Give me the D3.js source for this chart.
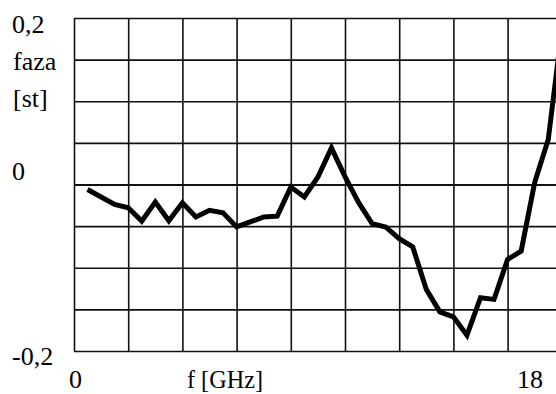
<!DOCTYPE html>
<html>
<head>
<meta charset="utf-8">
<script src="https://cdn.jsdelivr.net/npm/d3@7"></script>
</head>
<body style="margin:0; background:#fff">
<script>
// frequency [GHz] and phase [st]
var freq = [0.5, 1, 1.5, 2, 2.5, 3, 3.5, 4, 4.5, 5, 5.5, 6, 6.5, 7, 7.5, 8, 8.5, 9,
            9.5, 10, 10.5, 11, 11.5, 12, 12.5, 13, 13.5, 14, 14.5, 15, 15.5, 16, 16.5, 17, 17.5, 18];
var faza = [-0.006, -0.015, -0.024, -0.028, -0.044, -0.021, -0.0435, -0.022, -0.039, -0.031,
            -0.034, -0.051, -0.045, -0.039, -0.038, -0.003, -0.015, 0.009, 0.044, 0.0095,
            -0.0215, -0.047, -0.051, -0.065, -0.075, -0.126, -0.153, -0.159, -0.181, -0.136,
            -0.138, -0.090, -0.080, 0.0025, 0.054, 0.186];

var xTicks = d3.range(0, 19, 2);
var yTicks = d3.range(-0.2, 0.2001, 0.05);
var yLabels = [{v: 0.2, t: "0,2"}, {v: 0, t: "0"}, {v: -0.2, t: "-0,2"}];

var w = 556, h = 394;

var svg = d3.select("body").append("svg")
    .attr("width", w)
    .attr("height", h)
    .style("display", "block");

var x = d3.scaleLinear().domain([0, 18]).range([74, 561.8]);
var y = d3.scaleLinear().domain([-0.2, 0.2]).range([351, 18]);

// grid drawn with axes, tick lines span the plot
var gx = svg.append("g")
    .attr("transform", "translate(0," + y(-0.2) + ")")
    .call(d3.axisBottom(x).tickValues(xTicks).tickSize(-(y(-0.2) - y(0.2))).tickFormat(""));
var gy = svg.append("g")
    .attr("transform", "translate(" + x(0) + ",0)")
    .call(d3.axisLeft(y).tickValues(yTicks).tickSize(-(x(18) - x(0))).tickFormat(""));
svg.selectAll(".domain").remove();
svg.selectAll(".tick line")
    .attr("stroke", "#111")
    .attr("stroke-width", 1.6);
gy.selectAll(".tick line")
    .filter(function(d){ return Math.abs(d) < 1e-9; })
    .attr("stroke-width", 2.2);

// data line
var line = d3.line()
    .x(function(d, i){ return x(freq[i]); })
    .y(function(d){ return y(d); });

svg.append("path")
    .datum(faza)
    .attr("d", line)
    .attr("fill", "none")
    .attr("stroke", "#000")
    .attr("stroke-width", 5);

// labels, serif font set on every text
function label(tx, ty, s) {
    return svg.append("text")
        .attr("x", tx)
        .attr("y", ty)
        .style("font-family", "'Liberation Serif', serif")
        .style("font-size", "26px")
        .attr("fill", "#000")
        .text(s);
}

yLabels.forEach(function(d){
    var ty = d.v > 0 ? y(d.v) + 15 : (d.v < 0 ? y(d.v) + 14 : y(d.v) - 4.5);
    label(12, ty, d.t);
});

label(13, 70, "faza");
label(13, 107, "[st]");

label(x(0) - 5, 388, "0");
label(187, 388, "f [GHz]")
    .attr("textLength", 76).attr("lengthAdjust", "spacingAndGlyphs");
label(517, 388, "18");
</script>
</body>
</html>
